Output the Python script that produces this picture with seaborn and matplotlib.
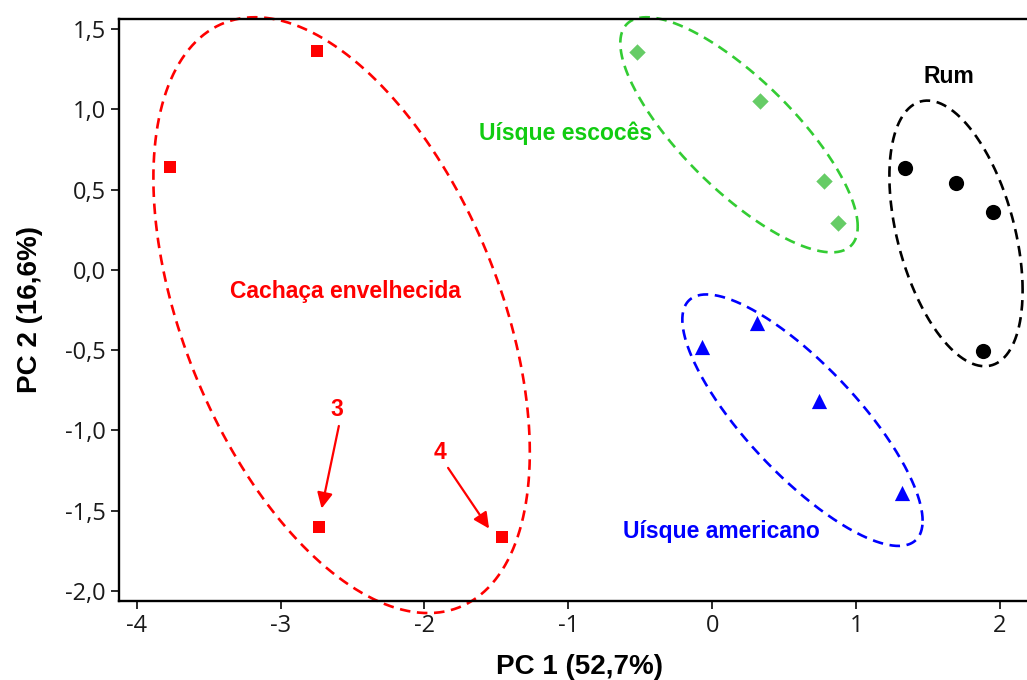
import numpy as np
import pandas as pd
import matplotlib
matplotlib.use("Agg")
import matplotlib.pyplot as plt
import seaborn as sns

# PCA scores per beverage group
cachaca_pc1 = [-2.75, -3.77, -2.73, -1.46]
cachaca_pc2 = [1.365, 0.638, -1.603, -1.663]
escoces_pc1 = [-0.52, 0.335, 0.78, 0.877]
escoces_pc2 = [1.357, 1.051, 0.553, 0.289]
rum_pc1 = [1.34, 1.692, 1.951, 1.884]
rum_pc2 = [0.636, 0.539, 0.358, -0.506]
americano_pc1 = [-0.069, 0.308, 0.74, 1.322]
americano_pc2 = [-0.479, -0.33, -0.818, -1.389]

groups = ["Cachaça envelhecida", "Uísque escocês", "Rum", "Uísque americano"]

# confidence ellipses: centre x, centre y, half-extent x, half-extent y, correlation
ellipse_cx = [-2.576, 0.186, 1.694, 0.627]
ellipse_cy = [-0.282, 0.841, 0.227, -0.936]
ellipse_ex = [1.308, 0.825, 0.463, 0.835]
ellipse_ey = [1.855, 0.732, 0.827, 0.783]
ellipse_rho = [-0.46, -0.78, -0.43, -0.80]

xticks = [-4, -3, -2, -1, 0, 1, 2]
xtick_labels = ["-4", "-3", "-2", "-1", "0", "1", "2"]
yticks = [-2.0, -1.5, -1.0, -0.5, 0.0, 0.5, 1.0, 1.5]
ytick_labels = ["-2,0", "-1,5", "-1,0", "-0,5", "0,0", "0,5", "1,0", "1,5"]

df = pd.DataFrame({
    "PC1": cachaca_pc1 + escoces_pc1 + rum_pc1 + americano_pc1,
    "PC2": cachaca_pc2 + escoces_pc2 + rum_pc2 + americano_pc2,
    "grupo": [groups[0]] * 4 + [groups[1]] * 4 + [groups[2]] * 4 + [groups[3]] * 4,
})

sns.set_style("ticks")
plt.rcParams["font.family"] = ["Open Sans", "DejaVu Sans"]

marker_color = {groups[0]: "#ff0000", groups[1]: "#66cc66", groups[2]: "#000000", groups[3]: "#0000ff"}
line_color = {groups[0]: "#ff0000", groups[1]: "#33cc33", groups[2]: "#000000", groups[3]: "#0000ff"}
text_color = {groups[0]: "#ff0000", groups[1]: "#11cc11", groups[2]: "#000000", groups[3]: "#0000ff"}
marker_shape = {groups[0]: "s", groups[1]: "D", groups[2]: "o", groups[3]: "^"}
marker_size = {groups[0]: 80, groups[1]: 70, groups[2]: 120, groups[3]: 120}

fig = plt.figure(figsize=(10.27, 6.8), dpi=100)
ax = fig.add_axes([119 / 1027, 1 - 600.7 / 680, (1041 - 119) / 1027, (600.7 - 19) / 680])

# dashed ellipses around each group
t = np.linspace(0, 2 * np.pi, 400)
for g, cx, cy, ex, ey, rho in zip(groups, ellipse_cx, ellipse_cy, ellipse_ex, ellipse_ey, ellipse_rho):
    ex_pts = cx + ex * np.cos(t)
    ey_pts = cy + ey * (rho * np.cos(t) + np.sqrt(1 - rho ** 2) * np.sin(t))
    ax.plot(ex_pts, ey_pts, color=line_color[g], lw=1.9, linestyle=(0, (4.0, 2.5)),
            clip_on=False, zorder=2)

for g in groups:
    sub = df[df["grupo"] == g]
    sns.scatterplot(data=sub, x="PC1", y="PC2", ax=ax, color=marker_color[g],
                    marker=marker_shape[g], s=marker_size[g], linewidth=0,
                    zorder=3, legend=False)

# group labels
label_x = [-2.552, -1.019, 1.641, 0.065]
label_y = [-0.137, 0.852, 1.201, -1.628]
for g, lx, ly in zip(groups, label_x, label_y):
    ax.text(lx, ly, g, color=text_color[g], fontsize=16.5, fontweight="bold",
            family="Liberation Sans", ha="center", va="center")

# numbered samples with arrows
arrow_props = dict(arrowstyle="-|>,head_length=0.63,head_width=0.31", color="#ff0000",
                   lw=1.6, mutation_scale=15, shrinkA=0, shrinkB=0)
ax.annotate("", xy=(-2.715, -1.486), xytext=(-2.595, -0.972), arrowprops=arrow_props)
ax.annotate("", xy=(-1.551, -1.611), xytext=(-1.836, -1.233), arrowprops=arrow_props)
ax.text(-2.609, -0.868, "3", color="#ff0000", fontsize=16.5, fontweight="bold",
        family="Liberation Sans", ha="center", va="center")
ax.text(-1.894, -1.135, "4", color="#ff0000", fontsize=16.5, fontweight="bold",
        family="Liberation Sans", ha="center", va="center")

ax.set_xlim(-4.123, 2 + 41 / 144)
ax.set_ylim(-2.06, 1.562)
ax.set_xticks(xticks)
ax.set_xticklabels(xtick_labels)
ax.set_yticks(yticks)
ax.set_yticklabels(ytick_labels)
ax.tick_params(axis="both", labelsize=17, length=6, width=1.3, pad=3.5,
               colors="#1a1a1a", direction="out")
for side in ["left", "bottom", "top"]:
    ax.spines[side].set_linewidth(1.7)
    ax.spines[side].set_color("black")
ax.spines["right"].set_visible(False)
ax.tick_params(top=False, right=False)

ax.set_xlabel("PC 1 (52,7%)", fontsize=20, fontweight="bold", family="Liberation Sans",
              color="black")
ax.set_ylabel("PC 2 (16,6%)", fontsize=20, fontweight="bold", family="Liberation Sans",
              color="black")
ax.xaxis.set_label_coords(0.499, -0.0916)
ax.yaxis.set_label_coords(-0.0824, 0.5)

fig.savefig("out.png", dpi=100)
